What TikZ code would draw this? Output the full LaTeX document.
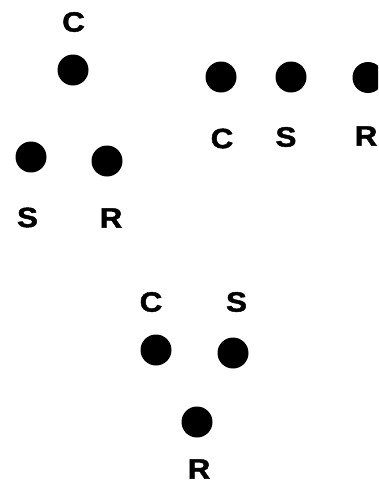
\documentclass[tikz,border=0pt]{standalone}
\usepackage{fontspec}
\setmainfont{Liberation Sans}
\newfontfamily\lblfont{Liberation Sans Bold}[FakeBold=1.5]
\tikzset{
  dot/.style={circle, fill=black, minimum size=31pt, inner sep=0pt},
  lbl/.style={inner sep=0pt, font=\lblfont\fontsize{28}{30}\selectfont, xscale=1.12, transform shape}
}
\begin{document}
\begin{tikzpicture}[x=1pt,y=-1pt]
\useasboundingbox (0,0) rectangle (378,485);
\clip (0,0) rectangle (378,485);
% group 1
\node[lbl] (c1l) at (73.5,22) {C};
\node[dot] (c1) at (73,70) {};
\node[dot] (s1) at (31,157) {};
\node[dot] (r1) at (107,161) {};
\node[lbl] (s1l) at (27.5,217.5) {S};
\node[lbl] (r1l) at (111,218) {R};
% group 2
\node[dot] (c2) at (221,77) {};
\node[dot] (s2) at (291,77) {};
\node[dot] (r2) at (368,77.5) {};
\node[lbl] (c2l) at (222,138.5) {C};
\node[lbl] (s2l) at (286,137) {S};
\node[lbl] (r2l) at (366,136) {R};
% group 3
\node[lbl] (c3l) at (151,302) {C};
\node[lbl] (s3l) at (236.5,302) {S};
\node[dot] (c3) at (156,350) {};
\node[dot] (s3) at (233,353) {};
\node[dot] (r3) at (197,422) {};
\node[lbl] (r3l) at (199,469) {R};
\end{tikzpicture}
\end{document}
